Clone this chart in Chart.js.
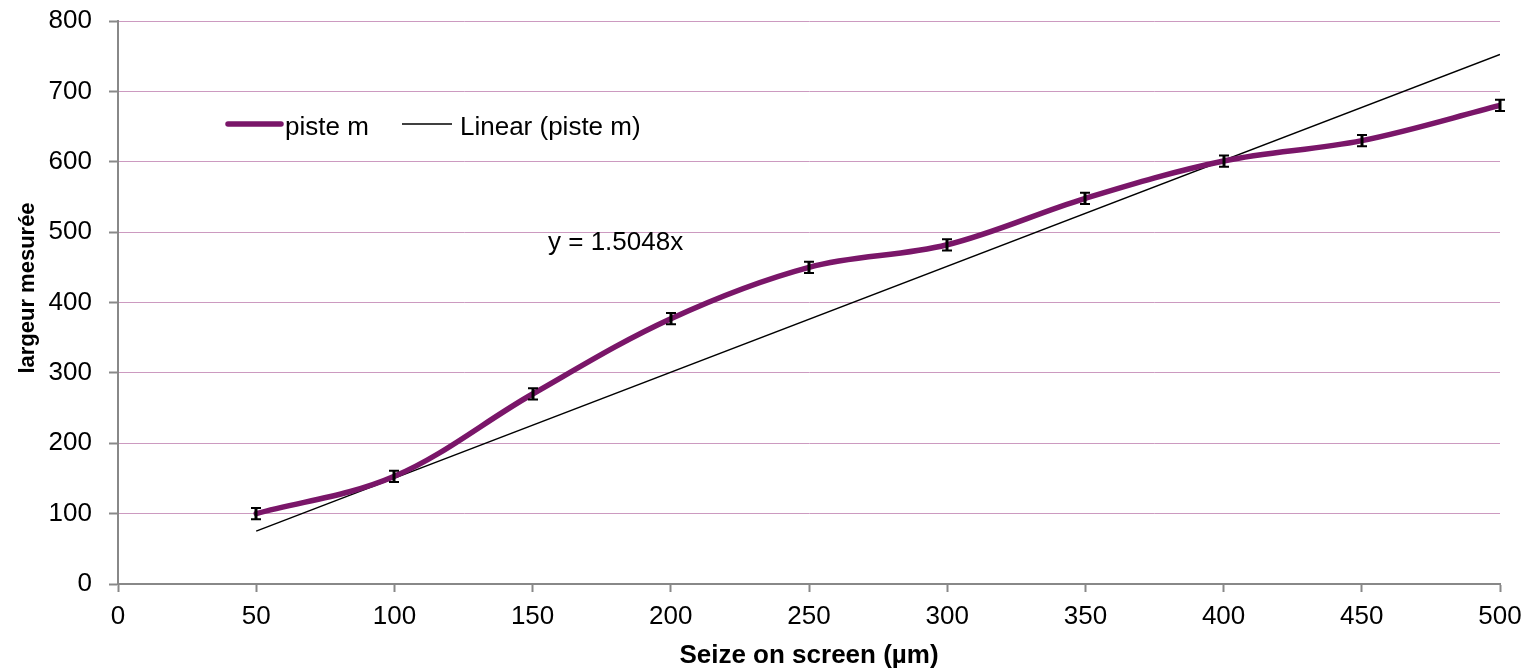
<!DOCTYPE html>
<html><head><meta charset="utf-8">
<script src="https://cdn.jsdelivr.net/npm/chart.js@4.4.1/dist/chart.umd.min.js"></script>
<style>html,body{margin:0;padding:0;background:#fff;}#wrap{width:1536px;height:669px;}</style>
</head><body><div id="wrap"><canvas id="c" width="1536" height="669"></canvas></div>
<script>
const sizes = [50, 100, 150, 200, 250, 300, 350, 400, 450, 500];
const widths = [100, 153, 270, 377, 450, 482, 548, 601, 630, 680];
const errors = [8, 8, 8, 8, 8, 8, 8, 8, 8, 8];
const trendX = [50, 500];
const trendY = [75.2, 752.4];
const seriesName = 'piste m';
const trendName = 'Linear (piste m)';
const equation = 'y = 1.5048x';
const xTitle = 'Seize on screen (µm)';
const yTitle = 'largeur mesurée';

const FONT = '"Liberation Sans", Arial, sans-serif';
const PURPLE = '#7a1669';

const drawPlugin = {
  id: 'extras',
  afterDatasetsDraw(chart) {
    const ctx = chart.ctx, xs = chart.scales.x, ys = chart.scales.y;
    ctx.save();
    ctx.strokeStyle = '#000';
    sizes.forEach((s, i) => {
      const px = Math.round(xs.getPixelForValue(s));
      const y1 = ys.getPixelForValue(widths[i] - errors[i]);
      const y2 = ys.getPixelForValue(widths[i] + errors[i]);
      ctx.lineWidth = 3;
      ctx.beginPath(); ctx.moveTo(px, y1); ctx.lineTo(px, y2); ctx.stroke();
      ctx.lineWidth = 2;
      ctx.beginPath();
      ctx.moveTo(px - 5, y1); ctx.lineTo(px + 5, y1);
      ctx.moveTo(px - 5, y2); ctx.lineTo(px + 5, y2);
      ctx.stroke();
    });
    // legend
    ctx.lineCap = 'round';
    ctx.strokeStyle = PURPLE; ctx.lineWidth = 5.5;
    ctx.beginPath(); ctx.moveTo(228, 124); ctx.lineTo(281, 124); ctx.stroke();
    ctx.lineCap = 'butt';
    ctx.strokeStyle = '#000'; ctx.lineWidth = 1.5;
    ctx.beginPath(); ctx.moveTo(402, 124); ctx.lineTo(452, 124); ctx.stroke();
    ctx.fillStyle = '#000';
    ctx.font = '26px ' + FONT;
    ctx.textBaseline = 'alphabetic'; ctx.textAlign = 'left';
    ctx.fillText(seriesName, 285, 135);
    ctx.fillText(trendName, 460, 135);
    ctx.fillText(equation, 548, 250);
    // axis titles
    ctx.font = 'bold 26px ' + FONT;
    ctx.textAlign = 'center';
    ctx.fillText(xTitle, (xs.left + xs.right) / 2, 663);
    ctx.save();
    ctx.translate(34, 288);
    ctx.rotate(-Math.PI / 2);
    ctx.font = 'bold 22px ' + FONT;
    ctx.fillText(yTitle, 0, 0);
    ctx.restore();
    ctx.restore();
  }
};

new Chart(document.getElementById('c'), {
  type: 'scatter',
  data: {
    datasets: [
      {
        label: trendName,
        data: trendX.map((x, i) => ({x: x, y: trendY[i]})),
        showLine: true, borderColor: '#000', borderWidth: 1.5,
        pointRadius: 0, tension: 0, order: 2
      },
      {
        label: seriesName,
        data: sizes.map((x, i) => ({x: x, y: widths[i]})),
        showLine: true, borderColor: PURPLE, borderWidth: 5.5,
        pointRadius: 0, tension: 0.35, order: 1,
        borderCapStyle: 'round'
      }
    ]
  },
  plugins: [drawPlugin],
  options: {
    responsive: false, animation: false, devicePixelRatio: 1,
    layout: {padding: {top: 21, right: 36, left: 0, bottom: 0}},
    plugins: {legend: {display: false}, tooltip: {enabled: false}},
    scales: {
      x: {
        type: 'linear', min: 0, max: 500,
        ticks: {stepSize: 50, color: '#000', font: {family: FONT, size: 26}, padding: 9},
        grid: {drawOnChartArea: false, tickLength: 8, tickColor: '#888', tickWidth: 2},
        border: {color: '#888', width: 2},
        afterFit(s) { s.height = 85; s.paddingLeft = 0; s.paddingRight = 0; }
      },
      y: {
        type: 'linear', min: 0, max: 800,
        ticks: {stepSize: 100, color: '#000', font: {family: FONT, size: 26}, padding: 17},
        grid: {color: '#cc9ac0', lineWidth: 1, borderDash: [2, 2], tickLength: 9, tickColor: '#888', tickWidth: 2, tickBorderDash: []},
        border: {color: '#888', width: 2},
        afterFit(s) { s.width = 118; s.paddingTop = 0; s.paddingBottom = 0; }
      }
    }
  }
});
</script></body></html>
